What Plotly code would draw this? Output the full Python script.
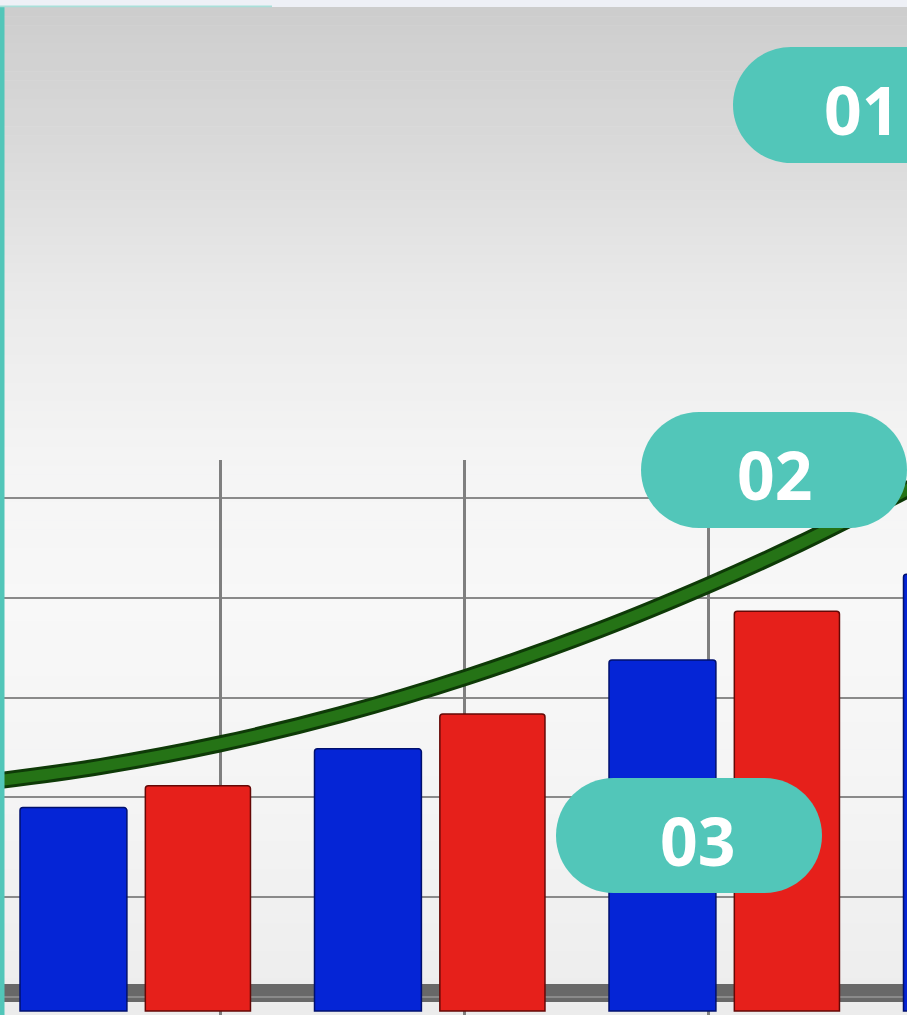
import plotly.graph_objects as go

# ---------------- data ----------------
categories = ["1", "2", "3", "4"]
cat_index = [0, 1, 2, 3]
blue_values = [2.04, 2.63, 3.52, 4.38]
red_values = [2.26, 2.98, 4.01]
trend_x = [-0.4805, -0.124, 0.2835, 0.691, 1.122, 1.574, 1.937, 2.253, 2.616, 2.650]
trend_y = [2.306, 2.452, 2.679, 2.971, 3.350, 3.825, 4.265, 4.689, 5.226, 5.278]
pill_labels = ["01", "02", "03"]

W, H = 907, 1015


def px(x):
    return x / W


def py(y):
    return 1 - y / H


def lerp_gray(y):
    stops = [(7, 205), (150, 218), (300, 234), (450, 244), (600, 248), (800, 244), (1015, 236)]
    for (y0, c0), (y1, c1) in zip(stops[:-1], stops[1:]):
        if y0 <= y <= y1:
            t = (y - y0) / (y1 - y0)
            c = round(c0 + (c1 - c0) * t)
            return f"rgb({c},{c},{c})"
    return "rgb(236,236,236)"


shapes = []
# background gradient bands
n = 110
top, bot = 7, H
for i in range(n):
    y0 = top + (bot - top) * i / n
    y1 = top + (bot - top) * (i + 1) / n
    shapes.append(dict(type="rect", xref="paper", yref="paper", x0=0, x1=1,
                       y0=py(y1 + 0.5), y1=py(y0), fillcolor=lerp_gray((y0 + y1) / 2),
                       line=dict(width=0), layer="below"))

# floor band of the chart
shapes.append(dict(type="rect", xref="paper", yref="y", x0=0, x1=1, y0=0.09, y1=0.27,
                   fillcolor="#686868", line=dict(width=0), layer="between"))

# left teal bar and top teal line
shapes.append(dict(type="rect", xref="paper", yref="paper", x0=0, x1=px(4.5), y0=0, y1=py(7),
                   fillcolor="#52c6b9", line=dict(width=0), layer="above"))
shapes.append(dict(type="rect", xref="paper", yref="paper", x0=0, x1=px(272), y0=py(7.2), y1=py(5.6),
                   fillcolor="#a9dfd9", line=dict(width=0), layer="above"))


def pill_path(L, R, T, B):
    r = (B - T) / 2
    cy = (T + B) / 2
    k = 0.5523 * r
    pts = [
        ("M", [(L + r, T)]),
        ("L", [(R - r, T)]),
        ("C", [(R - r + k, T), (R, cy - k), (R, cy)]),
        ("C", [(R, cy + k), (R - r + k, B), (R - r, B)]),
        ("L", [(L + r, B)]),
        ("C", [(L + r - k, B), (L, cy + k), (L, cy)]),
        ("C", [(L, cy - k), (L + r - k, T), (L + r, T)]),
    ]
    s = ""
    for cmd, ps in pts:
        s += cmd + " " + " ".join(f"{px(x):.5f},{py(y):.5f}" for x, y in ps) + " "
    return s + "Z"


pills = [  # (left, right, top, bottom, text_x, text_y)
    (733, 999, 47, 163, 861, 109),
    (641, 907, 412, 528, 774, 474),
    (556, 822, 778, 893, 697, 840),
]
annotations = []
for (L, R, T, B, tx, ty), label in zip(pills, pill_labels):
    shapes.append(dict(type="path", xref="paper", yref="paper", path=pill_path(L, R, T, B),
                       fillcolor="#52c6b9", line=dict(width=0), layer="above"))
    annotations.append(dict(xref="paper", yref="paper", x=px(tx), y=py(ty), text=label,
                            showarrow=False, xanchor="center", yanchor="middle",
                            font=dict(family="Open Sans", size=66, color="white", weight="bold")))

fig = go.Figure()

fig.add_trace(go.Scatter(x=[None], y=[None], xaxis="x2", yaxis="y", showlegend=False,
                         hoverinfo="skip"))

fig.add_trace(go.Bar(x=cat_index, y=blue_values, name="blue", offset=-0.3956, width=0.363,
                     marker=dict(color="#0525d6", line=dict(color="#00106e", width=1.5), cornerradius=3),
                     showlegend=False))
fig.add_trace(go.Bar(x=cat_index[:len(red_values)], y=red_values, name="red", offset=0.03, width=0.357,
                     marker=dict(color="#e6201b", line=dict(color="#640806", width=1.5), cornerradius=3),
                     showlegend=False))

fig.add_trace(go.Scatter(x=trend_x, y=trend_y, mode="lines", line=dict(color="#0e3a07", width=17, shape="spline"),
                         showlegend=False, hoverinfo="skip"))
fig.add_trace(go.Scatter(x=trend_x, y=trend_y, mode="lines", line=dict(color="#257316", width=11, shape="spline"),
                         showlegend=False, hoverinfo="skip"))

fig.update_layout(
    width=W, height=H,
    margin=dict(l=0, r=0, t=0, b=0),
    paper_bgcolor="#eef0f6",
    plot_bgcolor="rgba(0,0,0,0)",
    barmode="overlay",
    shapes=shapes,
    annotations=annotations,
    xaxis=dict(domain=[0, 1], range=[-0.4635, 2.6163], showgrid=False, zeroline=False,
               showticklabels=False, ticks="", tickvals=cat_index, ticktext=categories, fixedrange=True),
    xaxis2=dict(overlaying="x", anchor="y", range=[0.0956, 3.813], showgrid=True, gridcolor="#7f7f7f",
                gridwidth=2.5, tick0=0, dtick=1, zeroline=False, showticklabels=False, ticks=""),
    yaxis=dict(domain=[0, 555 / H], range=[-0.0401, 5.5266], tick0=0.1434, dtick=1, showgrid=True,
               gridcolor="#8a8a8a", gridwidth=2, zeroline=False, showticklabels=False, ticks="",
               fixedrange=True),
)

fig.write_html(
    "out.html",
    config={"displayModeBar": False},
    post_script="document.body.style.margin='0';document.body.style.padding='0';"
                "document.body.style.overflow='hidden';",
)
